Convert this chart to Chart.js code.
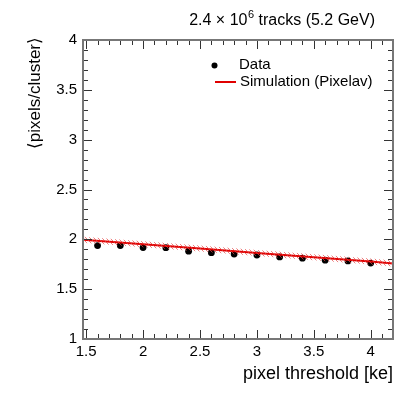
<!DOCTYPE html>
<html>
<head>
<meta charset="utf-8">
<script src="https://cdn.jsdelivr.net/npm/chart.js@4.4.0/dist/chart.umd.min.js"></script>
<style>
  html, body { margin: 0; padding: 0; background: #fff; }
</style>
</head>
<body>
<canvas id="myChart" width="415" height="399"></canvas>
<script>
// measured points (pixel threshold in ke)
const thresholds = [1.6, 1.8, 2.0, 2.2, 2.4, 2.6, 2.8, 3.0, 3.2, 3.4, 3.6, 3.8, 4.0];
const dataValues = [1.937, 1.938, 1.917, 1.916, 1.881, 1.866, 1.853, 1.843, 1.823, 1.811, 1.791, 1.783, 1.762];

// simulation curve (Pixelav) and its band
const simX = [1.47, 2.0, 2.5, 3.0, 3.5, 4.0, 4.2];
const simValues = [1.995, 1.950, 1.907, 1.864, 1.820, 1.777, 1.758];
const simError = 0.03;

const xTicks = [1.5, 2, 2.5, 3, 3.5, 4];
const yTicks = [1, 1.5, 2, 2.5, 3, 3.5, 4];

const FONT = '"Liberation Sans", Arial, Helvetica, sans-serif';

const ctx = document.getElementById('myChart').getContext('2d');

function makeHatch() {
    const c = document.createElement('canvas');
    c.width = 4;
    c.height = 4;
    const g = c.getContext('2d');
    g.strokeStyle = 'rgba(230, 70, 70, 0.7)';
    g.lineWidth = 1;
    g.beginPath();
    g.moveTo(-1, -1);
    g.lineTo(5, 5);
    g.stroke();
    return ctx.createPattern(c, 'repeat');
}

// frame, inward ticks, legend and header text (ROOT look)
const rootStyle = {
    id: 'rootStyle',
    afterDraw(chart) {
        const a = chart.chartArea;
        const xs = chart.scales.x, ys = chart.scales.y;
        const c = chart.ctx;
        c.save();
        c.strokeStyle = '#333';
        c.lineWidth = 1;
        c.beginPath();
        for (let i = 15; i <= 42; i++) {
            const v = i / 10;
            if (v < xs.min || v > xs.max) continue;
            const px = Math.round(xs.getPixelForValue(v)) + 0.5;
            const len = (i % 5 === 0) ? 9 : 5;
            c.moveTo(px, a.bottom); c.lineTo(px, a.bottom - len);
            c.moveTo(px, a.top); c.lineTo(px, a.top + len);
        }
        for (let i = 10; i <= 40; i++) {
            const v = i / 10;
            const py = Math.round(ys.getPixelForValue(v)) + 0.5;
            const len = (i % 5 === 0) ? 9 : 5;
            c.moveTo(a.left, py); c.lineTo(a.left + len, py);
            c.moveTo(a.right, py); c.lineTo(a.right - len, py);
        }
        c.stroke();

        c.strokeStyle = '#777';
        c.lineWidth = 2;
        c.strokeRect(a.left, a.top, a.right - a.left, a.bottom - a.top);

        // legend
        c.fillStyle = '#000';
        c.beginPath();
        c.arc(214.5, 65.5, 3, 0, Math.PI * 2);
        c.fill();
        c.strokeStyle = '#e00000';
        c.lineWidth = 2;
        c.beginPath();
        c.moveTo(215, 82); c.lineTo(236, 82);
        c.stroke();
        c.font = '15px ' + FONT;
        c.textBaseline = 'middle';
        c.textAlign = 'left';
        c.fillText('Data', 239, 65);
        c.fillText('Simulation (Pixelav)', 240, 82);

        // header
        c.font = '16px ' + FONT;
        c.textAlign = 'right';
        const tail = ' tracks (5.2 GeV)';
        let x = 375;
        c.fillText(tail, x, 21);
        x -= c.measureText(tail).width;
        c.font = '11px ' + FONT;
        c.fillText('6', x, 15);
        x -= c.measureText('6').width + 0.5;
        c.font = '16px ' + FONT;
        c.fillText('2.4 \u00d7 10', x, 21);

        // y axis title
        c.translate(35, 37);
        c.rotate(-Math.PI / 2);
        c.font = '17px ' + FONT;
        c.textAlign = 'right';
        c.textBaseline = 'middle';
        c.fillText('\u27e8pixels/cluster\u27e9', 0, 0);
        c.restore();
    }
};

new Chart(ctx, {
    type: 'scatter',
    data: {
        datasets: [{
            label: 'band up',
            data: simX.map((x, i) => ({x: x, y: simValues[i] + simError})),
            showLine: true,
            borderWidth: 0,
            borderColor: 'rgba(0,0,0,0)',
            pointRadius: 0,
            fill: '+1',
            backgroundColor: makeHatch()
        }, {
            label: 'band low',
            data: simX.map((x, i) => ({x: x, y: simValues[i] - simError})),
            showLine: true,
            borderWidth: 0,
            borderColor: 'rgba(0,0,0,0)',
            pointRadius: 0,
            fill: false
        }, {
            label: 'Simulation (Pixelav)',
            data: simX.map((x, i) => ({x: x, y: simValues[i]})),
            showLine: true,
            borderColor: '#e00000',
            borderWidth: 2,
            pointRadius: 0,
            fill: false
        }, {
            label: 'Data',
            data: thresholds.map((x, i) => ({x: x, y: dataValues[i]})),
            pointRadius: 3.4,
            pointBackgroundColor: '#000',
            pointBorderWidth: 0
        }]
    },
    options: {
        responsive: false,
        animation: false,
        layout: {padding: {top: 40, right: 22, left: 0, bottom: 0}},
        plugins: {legend: {display: false}, tooltip: {enabled: false}},
        scales: {
            x: {
                type: 'linear',
                min: 1.472,
                max: 4.196,
                afterFit(s) { s.height = 60; },
                afterBuildTicks(s) { s.ticks = xTicks.map(v => ({value: v})); },
                grid: {display: false, drawTicks: false},
                border: {display: false},
                ticks: {
                    color: '#000',
                    font: {family: FONT, size: 15},
                    padding: 4,
                    maxRotation: 0,
                    autoSkip: false,
                    callback: v => String(v)
                },
                title: {
                    display: true,
                    text: 'pixel threshold [ke]',
                    align: 'end',
                    color: '#000',
                    font: {family: FONT, size: 18},
                    padding: {top: 0, bottom: 14}
                }
            },
            y: {
                type: 'linear',
                min: 1,
                max: 4,
                afterFit(s) { s.width = 83; },
                afterBuildTicks(s) { s.ticks = yTicks.map(v => ({value: v})); },
                grid: {display: false, drawTicks: false},
                border: {display: false},
                ticks: {
                    color: '#000',
                    font: {family: FONT, size: 15},
                    padding: 6,
                    autoSkip: false,
                    callback: v => String(v)
                }
            }
        }
    },
    plugins: [rootStyle]
});
</script>
</body>
</html>
